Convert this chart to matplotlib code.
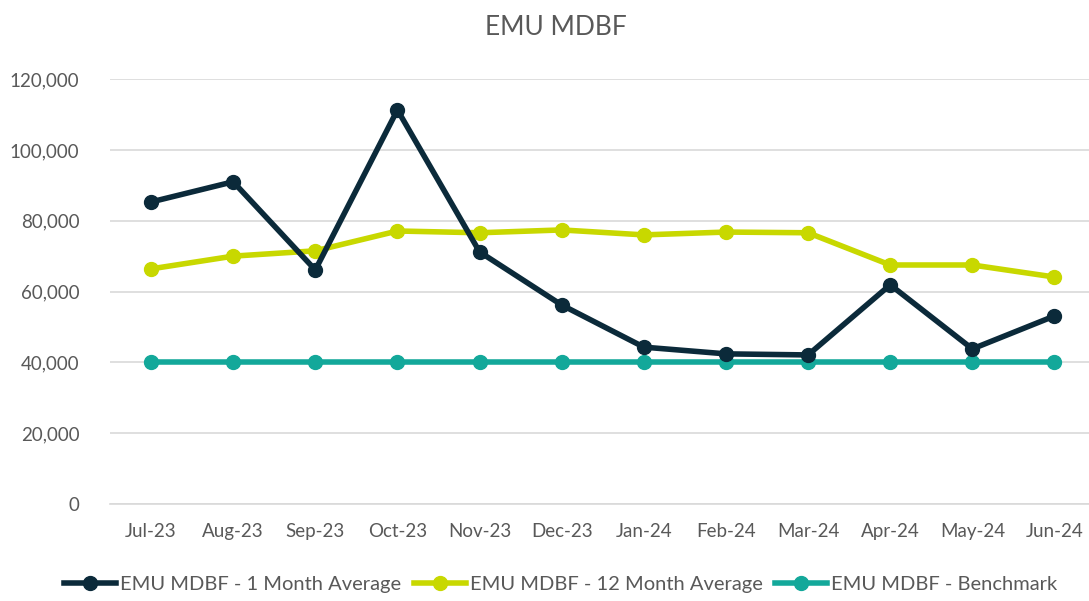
import matplotlib.pyplot as plt
from matplotlib.ticker import FuncFormatter

plt.rcParams["font.family"] = ["Lato", "DejaVu Sans"]

months = ["Jul-23", "Aug-23", "Sep-23", "Oct-23", "Nov-23", "Dec-23",
          "Jan-24", "Feb-24", "Mar-24", "Apr-24", "May-24", "Jun-24"]
one_month = [85300, 91000, 66100, 111300, 71200, 56200,
             44300, 42400, 42100, 61900, 43800, 53100]
twelve_month = [66400, 70000, 71500, 77100, 76600, 77400,
                76000, 76800, 76600, 67500, 67500, 64100]
benchmark = [40000] * 12

NAVY = "#0b2a3a"
LIME = "#c8d800"
TEAL = "#13a89a"
GREY = "#595959"

fig = plt.figure(figsize=(10.89, 6.01), dpi=100)
ax = fig.add_axes([0.101, 0.1614, 0.905, 0.707])

x = range(len(months))
ax.plot(x, one_month, color=NAVY, lw=4, marker="o", ms=10, label="EMU MDBF - 1 Month Average", zorder=4)
ax.plot(x, twelve_month, color=LIME, lw=4, marker="o", ms=10, label="EMU MDBF - 12 Month Average", zorder=3)
ax.plot(x, benchmark, color=TEAL, lw=4, marker="o", ms=10, label="EMU MDBF - Benchmark", zorder=2)

ax.set_xlim(-0.5, 11.5)
ax.set_ylim(0, 120000)
ax.set_yticks(range(0, 120001, 20000))
ax.yaxis.set_major_formatter(FuncFormatter(lambda v, p: f"{int(v):,}"))
ax.set_xticks(list(x))
ax.set_xticklabels(months)
ax.grid(axis="y", color="#d9d9d9", lw=1.2)
ax.set_axisbelow(True)
for s in ["top", "right", "left"]:
    ax.spines[s].set_visible(False)
ax.spines["bottom"].set_color("#d9d9d9")
ax.spines["bottom"].set_linewidth(1.2)
ax.tick_params(axis="both", length=0, colors=GREY, labelsize=13.5)
ax.tick_params(axis="x", pad=14)
ax.tick_params(axis="y", pad=22)

fig.text(0.51, 0.955, "EMU MDBF", ha="center", va="center", fontsize=19, color=GREY)

fig.legend(loc="center", bbox_to_anchor=(0.515, 0.027), ncol=3, frameon=False,
           fontsize=14.5, labelcolor=GREY, handlelength=2.6, handletextpad=0.2,
           columnspacing=0.6)

fig.savefig("out.png", dpi=100)
